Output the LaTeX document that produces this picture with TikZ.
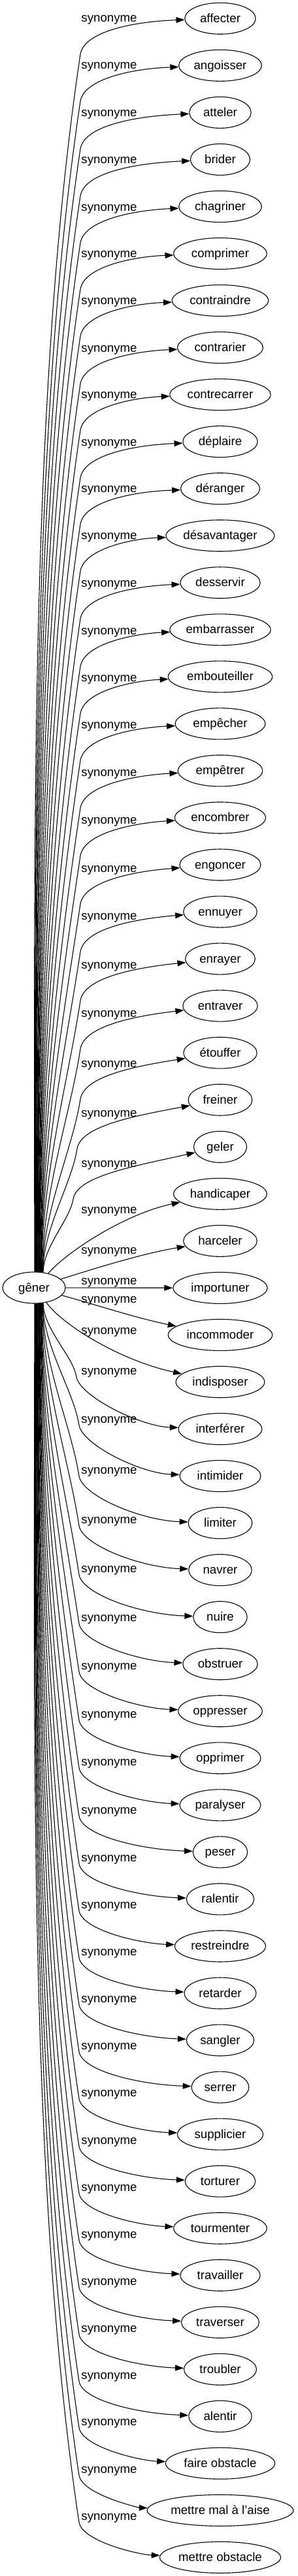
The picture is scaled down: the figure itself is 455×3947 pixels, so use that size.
\documentclass[tikz,border=0pt]{standalone}
\usepackage{fontspec}
\setmainfont{Liberation Sans}
\usetikzlibrary{shapes.geometric,arrows.meta,calc}
\begin{document}
\begin{tikzpicture}[x=1pt,y=-1pt,
  nd/.style={draw, ellipse, line width=1.1pt, inner sep=0pt, minimum height=48pt,
    font=\fontsize{18.67}{22}\selectfont, text height=13pt, text depth=1pt},
  lbl/.style={inner sep=0pt, font=\fontsize{18.67}{22}\selectfont, text height=13pt, text depth=1pt},
  edge/.style={draw, line width=1.1pt, -{Triangle[length=13pt,width=9pt]}}]
\useasboundingbox (0,0) rectangle (455,3947);
\node[nd, minimum width=96pt] (g) at (52,1973) {gêner};
\foreach \i/\L/\W/\t in {0/28/108.3/affecter, 1/100/126.7/angoisser, 2/173/94.3/atteler,
  3/245/91/brider, 4/317/126.7/chagriner, 5/388/142.6/comprimer, 6/460/147.4/contraindre,
  7/533/130.6/contrarier, 8/604/154.3/contrecarrer, 9/677/114.3/déplaire, 10/748/121/déranger,
  11/820/166/désavantager, 12/893/122.3/desservir, 13/966/154.3/embarrasser,
  14/1038/159.4/embouteiller, 15/1110/137.7/empêcher, 16/1183/129.4/empêtrer,
  17/1256/139/encombrer, 18/1330/124/engoncer, 19/1403/112.6/ennuyer, 20/1478/106.7/enrayer,
  21/1552/114.3/entraver, 22/1629/112.3/étouffer, 23/1705/97.7/freiner, 24/1782/81/geler,
  25/1853/142.6/handicaper, 26/1915/112.6/harceler, 27/1962/144/importuner,
  28/1990/159.4/incommoder, 29/2038/135.7/indisposer, 30/2100/127.7/interférer,
  31/2174/124/intimider, 32/2252/97.7/limiter, 33/2328/96.4/navrer, 34/2403/82.3/nuire,
  35/2478/114.3/obstruer, 36/2552/128.4/oppresser, 37/2626/124/opprimer,
  38/2699/124/paralyser, 39/2773/83.3/peser, 40/2846/103.3/ralentir,
  41/2918/139/restreindre, 42/2990/110/retarder, 43/3062/103.3/sangler, 44/3134/87.7/serrer,
  45/3206/131/supplicier, 46/3279/107.4/torturer, 47/3351/142.6/tourmenter,
  48/3423/122.3/travailler, 49/3495/119/traverser, 50/3567/111/troubler, 51/3639/96.4/alentir,
  52/3710/167.4/faire obstacle, 53/3783/223.7/mettre mal à l'aise, 54/3855/185/mettre obstacle}{
  \pgfmathsetmacro\myny{28.3+72.04*\i}
  \node[nd, minimum width=\W pt] (n\i) at (337,\myny) {\t};
  \node[lbl] (l\i) at (167,\L) {synonyme};
}
% upper edges
\foreach \i/\L in {0/28, 1/100, 2/173, 3/245, 4/317, 5/388, 6/460, 7/533, 8/604, 9/677,
  10/748, 11/820, 12/893, 13/966, 14/1038, 15/1110, 16/1183, 17/1256, 18/1330, 19/1403,
  20/1478, 21/1552, 22/1629, 23/1705, 24/1782}{
  \pgfmathsetmacro\myang{88-1.2*\i}
  \pgfmathsetmacro\mykx{\i==23 ? 118 : (\i==24 ? 112 : 123)}
  \pgfmathsetmacro\myky{\L+55}
  \pgfmathsetmacro\myh{0.35*(1950-\myky)}
  \pgfmathsetmacro\mydd{0.28*(1950-\myky)}
  \pgfmathsetmacro\mybx{\mykx-0.15*\mydd}
  \pgfmathsetmacro\myby{\myky+\mydd}
  \draw[edge] (g.\myang) .. controls ($(g.\myang)+(0,-\myh)$) and (\mybx,\myby) .. (\mykx,\myky)
    .. controls (\mykx+6,\L+20) and (205,\L+5) .. (n\i);
}
% lower edges
\foreach \i/\L in {30/2100, 31/2174, 32/2252, 33/2328, 34/2403, 35/2478, 36/2552, 37/2626,
  38/2699, 39/2773, 40/2846, 41/2918, 42/2990, 43/3062, 44/3134, 45/3206, 46/3279, 47/3351,
  48/3423, 49/3495, 50/3567, 51/3639, 52/3710, 53/3783, 54/3855}{
  \pgfmathsetmacro\myang{-88+1.2*(54-\i)}
  \pgfmathsetmacro\mykx{\i==30 ? 117 : 121}
  \pgfmathsetmacro\myky{\L+10}
  \pgfmathsetmacro\myh{0.35*(\myky-1996)}
  \pgfmathsetmacro\mydd{0.28*(\myky-1996)}
  \pgfmathsetmacro\mybx{\mykx-0.15*\mydd}
  \pgfmathsetmacro\myby{\myky-\mydd}
  \pgfmathsetmacro\myny{28.3+72.04*\i}
  \draw[edge] (g.\myang) .. controls ($(g.\myang)+(0,\myh)$) and (\mybx,\myby) .. (\mykx,\myky)
    .. controls (\mykx+6,\myky+30) and (215,\myny-4) .. (n\i);
}
% edges near the source
\draw[edge] (g.45) .. controls (100,1920) and (190,1860) .. (n25);
\draw[edge] (g) .. controls (140,1945) and (220,1920) .. (n26);
\draw[edge] (g) -- (n27);
\draw[edge] (g) .. controls (150,2000) and (210,2020) .. (n28);
\draw[edge] (g.-50) .. controls (95,2030) and (185,2085) .. (n29);
\end{tikzpicture}
\end{document}
